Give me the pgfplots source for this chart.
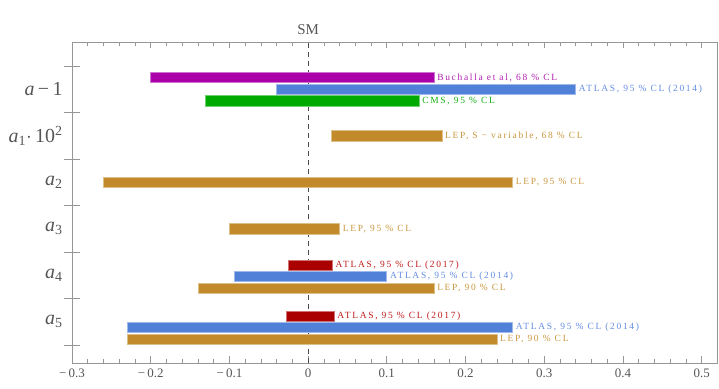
\documentclass[border=0pt]{standalone}
\usepackage{fontspec}
\setmainfont{Liberation Serif}
\newfontfamily\labfont[LetterSpace=18]{Liberation Serif}
\usepackage{pgfplots}
\pgfplotsset{compat=1.18}

\definecolor{cpurple}{RGB}{170,0,170}
\definecolor{cblue}{RGB}{80,128,216}
\definecolor{cgreen}{RGB}{0,170,0}
\definecolor{cgold}{RGB}{194,138,42}
\definecolor{cred}{RGB}{170,0,0}
\definecolor{lpurple}{RGB}{176,30,176}
\definecolor{lblue}{RGB}{100,140,225}
\definecolor{lgreen}{RGB}{20,175,20}
\definecolor{lgold}{RGB}{200,150,60}
\definecolor{lred}{RGB}{190,25,25}
\definecolor{framegray}{RGB}{150,150,150}
\definecolor{textgray}{RGB}{85,85,85}

% bar: left, right, bottom, top, colour
\newcommand\rangebar[5]{\addplot[fill=#5, draw=#5!55!white, line width=0.7bp]
  coordinates {(#1,#3) (#2,#3) (#2,#4) (#1,#4)} -- cycle;}

\begin{document}
\begin{tikzpicture}[x=1bp,y=1bp]
\path[use as bounding box] (-72,-25) rectangle (647,363);
\begin{axis}[
    at={(0,0)}, anchor=south west,
    scale only axis,
    width=645bp, height=321bp,
    xmin=-0.3, xmax=0.5195,
    ymin=-0.387, ymax=6.516,
    axis line style={framegray, line width=0.7bp},
    unbounded coords=jump,
    xtick={-0.3,-0.2,-0.1,0,0.1,0.2,0.3,0.4,0.5},
    xticklabels={−\,0.3,−\,0.2,−\,0.1,0,0.1,0.2,0.3,0.4,0.5},
    x tick style={draw=none},
    x tick label style={font=\fontsize{13}{13}\selectfont, text=textgray, yshift=-2bp},
    ytick={0.5,1.5,2.5,3.5,4.5,5.5},
    yticklabels={\textit{a}\textsubscript{5},\textit{a}\textsubscript{4},\textit{a}\textsubscript{3},\textit{a}\textsubscript{2},\textit{a}\textsubscript{1}$\cdot$\,10\textsuperscript{2},\textit{a}\,−\,1},
    y tick style={draw=none},
    ytick pos=left,
    y tick label style={font=\fontsize{20}{20}\selectfont, text=textgray, xshift=-6bp},
    clip=false,
]

% major x ticks, bottom and top, pointing inwards
\addplot[framegray, line width=0.7bp, forget plot] coordinates {
  (-0.3,-0.387) (-0.3,-0.237) (nan,nan) (-0.2,-0.387) (-0.2,-0.237) (nan,nan)
  (-0.1,-0.387) (-0.1,-0.237) (nan,nan) (0,-0.387) (0,-0.237) (nan,nan)
  (0.1,-0.387) (0.1,-0.237) (nan,nan) (0.2,-0.387) (0.2,-0.237) (nan,nan)
  (0.3,-0.387) (0.3,-0.237) (nan,nan) (0.4,-0.387) (0.4,-0.237) (nan,nan)
  (0.5,-0.387) (0.5,-0.237) (nan,nan)
  (-0.3,6.516) (-0.3,6.386) (nan,nan) (-0.2,6.516) (-0.2,6.386) (nan,nan)
  (-0.1,6.516) (-0.1,6.386) (nan,nan) (0,6.516) (0,6.386) (nan,nan)
  (0.1,6.516) (0.1,6.386) (nan,nan) (0.2,6.516) (0.2,6.386) (nan,nan)
  (0.3,6.516) (0.3,6.386) (nan,nan) (0.4,6.516) (0.4,6.386) (nan,nan)
  (0.5,6.516) (0.5,6.386)
};
% minor x ticks
\addplot[framegray, line width=0.6bp, forget plot] coordinates {
  (-0.28,-0.387) (-0.28,-0.307) (nan,nan) (-0.26,-0.387) (-0.26,-0.307) (nan,nan)
  (-0.24,-0.387) (-0.24,-0.307) (nan,nan) (-0.22,-0.387) (-0.22,-0.307) (nan,nan)
  (-0.18,-0.387) (-0.18,-0.307) (nan,nan) (-0.16,-0.387) (-0.16,-0.307) (nan,nan)
  (-0.14,-0.387) (-0.14,-0.307) (nan,nan) (-0.12,-0.387) (-0.12,-0.307) (nan,nan)
  (-0.08,-0.387) (-0.08,-0.307) (nan,nan) (-0.06,-0.387) (-0.06,-0.307) (nan,nan)
  (-0.04,-0.387) (-0.04,-0.307) (nan,nan) (-0.02,-0.387) (-0.02,-0.307) (nan,nan)
  (0.02,-0.387) (0.02,-0.307) (nan,nan) (0.04,-0.387) (0.04,-0.307) (nan,nan)
  (0.06,-0.387) (0.06,-0.307) (nan,nan) (0.08,-0.387) (0.08,-0.307) (nan,nan)
  (0.12,-0.387) (0.12,-0.307) (nan,nan) (0.14,-0.387) (0.14,-0.307) (nan,nan)
  (0.16,-0.387) (0.16,-0.307) (nan,nan) (0.18,-0.387) (0.18,-0.307) (nan,nan)
  (0.22,-0.387) (0.22,-0.307) (nan,nan) (0.24,-0.387) (0.24,-0.307) (nan,nan)
  (0.26,-0.387) (0.26,-0.307) (nan,nan) (0.28,-0.387) (0.28,-0.307) (nan,nan)
  (0.32,-0.387) (0.32,-0.307) (nan,nan) (0.34,-0.387) (0.34,-0.307) (nan,nan)
  (0.36,-0.387) (0.36,-0.307) (nan,nan) (0.38,-0.387) (0.38,-0.307) (nan,nan)
  (0.42,-0.387) (0.42,-0.307) (nan,nan) (0.44,-0.387) (0.44,-0.307) (nan,nan)
  (0.46,-0.387) (0.46,-0.307) (nan,nan) (0.48,-0.387) (0.48,-0.307) (nan,nan)
  (-0.28,6.516) (-0.28,6.436) (nan,nan) (-0.26,6.516) (-0.26,6.436) (nan,nan)
  (-0.24,6.516) (-0.24,6.436) (nan,nan) (-0.22,6.516) (-0.22,6.436) (nan,nan)
  (-0.18,6.516) (-0.18,6.436) (nan,nan) (-0.16,6.516) (-0.16,6.436) (nan,nan)
  (-0.14,6.516) (-0.14,6.436) (nan,nan) (-0.12,6.516) (-0.12,6.436) (nan,nan)
  (-0.08,6.516) (-0.08,6.436) (nan,nan) (-0.06,6.516) (-0.06,6.436) (nan,nan)
  (-0.04,6.516) (-0.04,6.436) (nan,nan) (-0.02,6.516) (-0.02,6.436) (nan,nan)
  (0.02,6.516) (0.02,6.436) (nan,nan) (0.04,6.516) (0.04,6.436) (nan,nan)
  (0.06,6.516) (0.06,6.436) (nan,nan) (0.08,6.516) (0.08,6.436) (nan,nan)
  (0.12,6.516) (0.12,6.436) (nan,nan) (0.14,6.516) (0.14,6.436) (nan,nan)
  (0.16,6.516) (0.16,6.436) (nan,nan) (0.18,6.516) (0.18,6.436) (nan,nan)
  (0.22,6.516) (0.22,6.436) (nan,nan) (0.24,6.516) (0.24,6.436) (nan,nan)
  (0.26,6.516) (0.26,6.436) (nan,nan) (0.28,6.516) (0.28,6.436) (nan,nan)
  (0.32,6.516) (0.32,6.436) (nan,nan) (0.34,6.516) (0.34,6.436) (nan,nan)
  (0.36,6.516) (0.36,6.436) (nan,nan) (0.38,6.516) (0.38,6.436) (nan,nan)
  (0.42,6.516) (0.42,6.436) (nan,nan) (0.44,6.516) (0.44,6.436) (nan,nan)
  (0.46,6.516) (0.46,6.436) (nan,nan) (0.48,6.516) (0.48,6.436)
};
% category separators crossing the left axis
\addplot[framegray, line width=0.7bp, forget plot] coordinates {
  (-0.3102,0) (-0.2898,0) (nan,nan) (-0.3102,1) (-0.2898,1) (nan,nan)
  (-0.3102,2) (-0.2898,2) (nan,nan) (-0.3102,3) (-0.2898,3) (nan,nan)
  (-0.3102,4) (-0.2898,4) (nan,nan) (-0.3102,5) (-0.2898,5) (nan,nan)
  (-0.3102,6) (-0.2898,6)
};

\addplot[dashed, dash pattern=on 5bp off 4bp, line width=0.8bp, black!70] coordinates {(0,-0.387) (0,6.516)};

% a - 1
\rangebar{-0.200}{0.160}{5.64}{5.86}{cpurple}
\rangebar{-0.040}{0.340}{5.39}{5.61}{cblue}
\rangebar{-0.130}{0.141}{5.14}{5.36}{cgreen}
% a1 * 10^2
\rangebar{0.030}{0.170}{4.39}{4.61}{cgold}
% a2
\rangebar{-0.260}{0.260}{3.39}{3.61}{cgold}
% a3
\rangebar{-0.100}{0.040}{2.39}{2.61}{cgold}
% a4
\rangebar{-0.025}{0.031}{1.61}{1.83}{cred}
\rangebar{-0.094}{0.100}{1.36}{1.58}{cblue}
\rangebar{-0.140}{0.160}{1.11}{1.33}{cgold}
% a5
\rangebar{-0.028}{0.033}{0.51}{0.73}{cred}
\rangebar{-0.230}{0.260}{0.27}{0.49}{cblue}
\rangebar{-0.230}{0.240}{0.015}{0.235}{cgold}

\begin{scope}[every node/.style={anchor=west, inner sep=0pt, xshift=3bp, font=\labfont\fontsize{9.5}{9.5}\selectfont}]
\node[lpurple] at (axis cs:0.160,5.75) {Buchalla et al, 68 \% CL};
\node[lblue]   at (axis cs:0.340,5.50) {ATLAS, 95 \% CL (\,2014)};
\node[lgreen]  at (axis cs:0.141,5.25) {CMS, 95 \% CL};
\node[lgold]   at (axis cs:0.170,4.50) {LEP, S − variable, 68 \% CL};
\node[lgold]   at (axis cs:0.260,3.50) {LEP, 95 \% CL};
\node[lgold]   at (axis cs:0.040,2.50) {LEP, 95 \% CL};
\node[lred]    at (axis cs:0.031,1.72) {ATLAS, 95 \% CL (\,2017)};
\node[lblue]   at (axis cs:0.100,1.47) {ATLAS, 95 \% CL (\,2014)};
\node[lgold]   at (axis cs:0.160,1.22) {LEP, 90 \% CL};
\node[lred]    at (axis cs:0.033,0.62) {ATLAS, 95 \% CL (\,2017)};
\node[lblue]   at (axis cs:0.260,0.38) {ATLAS, 95 \% CL (\,2014)};
\node[lgold]   at (axis cs:0.240,0.125) {LEP, 90 \% CL};
\end{scope}

\node[anchor=base, text=textgray, font=\fontsize{15}{15}\selectfont] at (axis cs:0,6.516) [yshift=8bp] {SM};
\end{axis}
\end{tikzpicture}
\end{document}
